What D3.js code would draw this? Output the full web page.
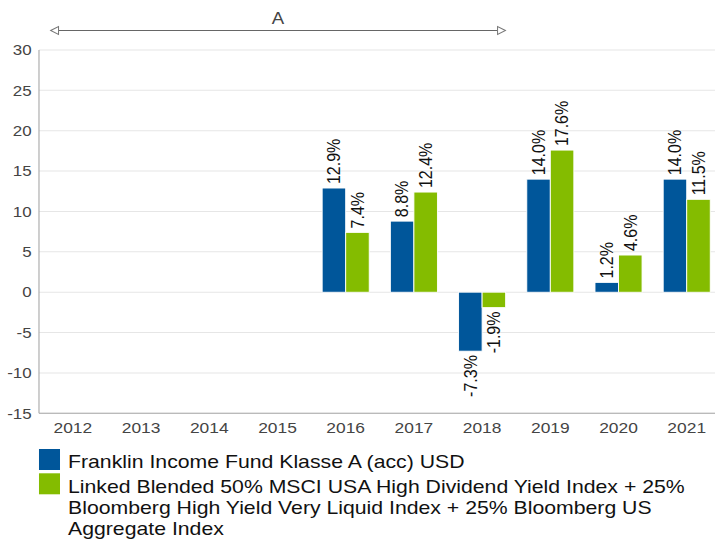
<!DOCTYPE html>
<html lang="en">
<head>
    <meta charset="UTF-8">
    <title>Calendar year performance</title>
    <script src="https://cdnjs.cloudflare.com/ajax/libs/d3/7.8.5/d3.min.js"></script>
    <style>
        body {
            margin: 0;
            background-color: white;
        }

        svg {
            display: block;
            font-family: "Liberation Sans", Arial, sans-serif;
        }

        .grid line {
            stroke: #e6e6e6;
        }

        .tick-label {
            fill: #444;
        }
    </style>
</head>
<body>
<div id="chart"></div>
<script>
    const YEARS = ['2012', '2013', '2014', '2015', '2016', '2017', '2018', '2019', '2020', '2021'];
    const FUND = [null, null, null, null, 12.9, 8.8, -7.3, 14.0, 1.2, 14.0];
    const BENCH = [null, null, null, null, 7.4, 12.4, -1.9, 17.6, 4.6, 11.5];
    const LEGEND_LINES = [
        ['Franklin Income Fund Klasse A (acc) USD'],
        ['Linked Blended 50% MSCI USA High Dividend Yield Index + 25%',
            'Bloomberg High Yield Very Liquid Index + 25% Bloomberg US',
            'Aggregate Index']
    ];
    const Y_TICKS = [-15, -10, -5, 0, 5, 10, 15, 20, 25, 30];
    const PERIOD = {label: 'A', from: '2012', to: '2018'};
    const COLORS = ['#00569a', '#84bc00'];

    function onLoad() {
        const width = 715;
        const height = 541;
        // the reference is drawn a bit wide, so stretch everything horizontally
        const sx = 1.13;
        const innerW = width / sx;

        const svg = d3.select('#chart')
            .append('svg')
            .attr('width', width)
            .attr('height', height);

        const root = svg.append('g').attr('transform', `scale(${sx},1)`);

        const left = 34.5;
        const x0 = d3.scaleBand()
            .domain(YEARS)
            .range([34.3, 637.9])
            .padding(0);
        const bw = x0.bandwidth();
        const x1 = d3.scaleBand()
            .domain([0, 1])
            .range([bw * 0.155, bw * 0.845]);

        const y = d3.scaleLinear()
            .domain([-15, 30])
            .range([413.3, 50]);

        // grid
        root.append('g').attr('class', 'grid')
            .selectAll('line')
            .data(Y_TICKS)
            .enter()
            .append('line')
            .attr('x1', left)
            .attr('x2', innerW)
            .attr('y1', d => y(d))
            .attr('y2', d => y(d));

        // y labels
        root.append('g')
            .selectAll('text')
            .data(Y_TICKS)
            .enter()
            .append('text')
            .attr('class', 'tick-label')
            .attr('x', 28)
            .attr('y', d => y(d))
            .attr('dy', '0.35em')
            .attr('text-anchor', 'end')
            .style('font-size', '15px')
            .text(d => d);

        // axis lines
        root.append('line')
            .attr('x1', left).attr('x2', left)
            .attr('y1', y(30)).attr('y2', y(-15))
            .attr('stroke', '#aaa');
        root.append('line')
            .attr('x1', left).attr('x2', innerW)
            .attr('y1', y(-15)).attr('y2', y(-15))
            .attr('stroke', '#aaa');

        // x labels
        root.append('g')
            .selectAll('text')
            .data(YEARS)
            .enter()
            .append('text')
            .attr('class', 'tick-label')
            .attr('x', d => x0(d) + bw / 2)
            .attr('y', 432.7)
            .attr('text-anchor', 'middle')
            .style('font-size', '15.4px')
            .text(d => d);

        // bars
        const rows = [];
        YEARS.forEach((yr, i) => {
            [FUND[i], BENCH[i]].forEach((v, s) => {
                if (v !== null) rows.push({year: yr, s: s, v: v});
            });
        });

        const bars = root.append('g');
        bars.selectAll('rect')
            .data(rows)
            .enter()
            .append('rect')
            .attr('x', d => x0(d.year) + x1(d.s))
            .attr('width', x1.bandwidth())
            .attr('y', d => y(Math.max(0, d.v)))
            .attr('height', d => Math.abs(y(d.v) - y(0)))
            .attr('fill', d => COLORS[d.s])
            .attr('stroke', 'white')
            .attr('stroke-width', 0.8);

        bars.selectAll('text')
            .data(rows)
            .enter()
            .append('text')
            .attr('transform', d => {
                const cx = x0(d.year) + x1(d.s) + x1.bandwidth() / 2;
                const cy = d.v >= 0 ? y(d.v) - 4 : y(d.v) + 4;
                return `translate(${cx},${cy}) rotate(-90)`;
            })
            .attr('dy', '0.35em')
            .attr('text-anchor', d => d.v >= 0 ? 'start' : 'end')
            .style('font-size', '16px')
            .attr('fill', '#111')
            .text(d => d.v.toFixed(1) + '%');

        // period arrow
        const ax1 = x0(PERIOD.from) + 10.5;
        const ax2 = x0(PERIOD.to) + bw - 9.5;
        const ay = 30.5;
        root.append('line')
            .attr('x1', ax1 + 7).attr('x2', ax2 - 7)
            .attr('y1', ay).attr('y2', ay)
            .attr('stroke', '#666')
            .attr('stroke-width', 1.2);
        root.append('path')
            .attr('d', `M${ax1},${ay} L${ax1 + 7},${ay - 4} L${ax1 + 7},${ay + 4} Z`)
            .attr('fill', 'white').attr('stroke', '#777').attr('stroke-width', 0.9);
        root.append('path')
            .attr('d', `M${ax2},${ay} L${ax2 - 7},${ay - 4} L${ax2 - 7},${ay + 4} Z`)
            .attr('fill', 'white').attr('stroke', '#777').attr('stroke-width', 0.9);
        root.append('text')
            .attr('x', (ax1 + ax2) / 2)
            .attr('y', 24.3)
            .attr('text-anchor', 'middle')
            .style('font-size', '16.5px')
            .attr('fill', '#444')
            .text(PERIOD.label);

        // legend
        const legendTops = [449, 473.3];
        const legendBase = [467.7, 493];
        const legend = root.append('g');
        LEGEND_LINES.forEach((lines, s) => {
            legend.append('rect')
                .attr('x', left)
                .attr('y', legendTops[s])
                .attr('width', 18.6)
                .attr('height', 21)
                .attr('fill', COLORS[s]);
            const t = legend.append('text')
                .attr('x', 60.2)
                .attr('y', legendBase[s])
                .style('font-size', '18.8px')
                .attr('fill', '#111');
            lines.forEach((ln, k) => {
                t.append('tspan')
                    .attr('x', 60.2)
                    .attr('dy', k === 0 ? 0 : 21)
                    .text(ln);
            });
        });
    }

    document.addEventListener('DOMContentLoaded', onLoad);
</script>
</body>
</html>
